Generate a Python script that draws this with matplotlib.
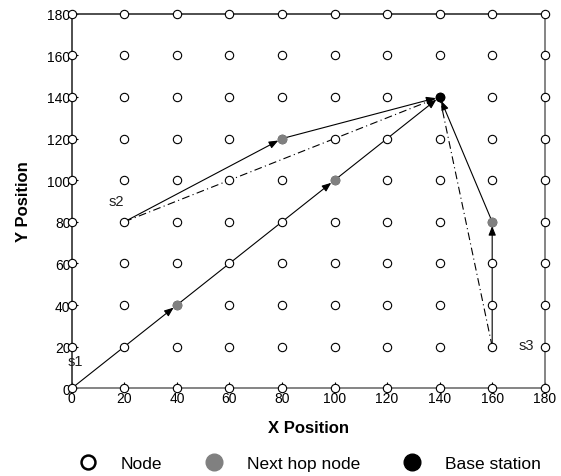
import matplotlib
matplotlib.use('Agg')
import matplotlib.pyplot as plt
from matplotlib.lines import Line2D
import numpy as np

plt.rcParams['font.family'] = ['Liberation Sans', 'DejaVu Sans']

grid_vals = list(range(0, 181, 20))
next_hop_x = [40, 100, 80, 160]
next_hop_y = [40, 100, 120, 80]
base_x, base_y = 140, 140

# multi-hop routes (solid, with arrows)
routes = [
    [(0, 0), (40, 40), (100, 100), (140, 140)],
    [(20, 80), (80, 120), (140, 140)],
    [(160, 20), (160, 80), (140, 140)],
]
# direct routes (dash-dot)
direct = [[(20, 80), (140, 140)], [(160, 20), (140, 140)]]

src_names = ['s1', 's2', 's3']
src_x = [0, 20, 160]
src_y = [0, 80, 20]
label_off = [(1.5, 13), (-3, 10), (13, 1)]

fig = plt.figure(figsize=(5.61, 4.77), dpi=100)
ax = fig.add_axes([0.128, 0.184, 0.843, 0.785])

gx, gy = np.meshgrid(grid_vals, grid_vals)
ax.plot(gx.ravel(), gy.ravel(), 'o', ms=6.0, mfc='white', mec='black', mew=0.8,
        ls='none', zorder=3, clip_on=False)

for r in routes:
    for (x0, y0), (x1, y1) in zip(r[:-1], r[1:]):
        ax.annotate('', xy=(x1, y1), xytext=(x0, y0),
                    arrowprops=dict(arrowstyle='-|>,head_length=0.55,head_width=0.22',
                                    color='black', lw=0.8, shrinkA=0, shrinkB=3),
                    zorder=2)
for (x0, y0), (x1, y1) in direct:
    ax.plot([x0, x1], [y0, y1], color='black', lw=0.8, ls=(0, (7, 3, 1, 3)), zorder=2)

ax.plot(next_hop_x, next_hop_y, 'o', ms=6.0, color='#808080', ls='none', zorder=4)
ax.plot([base_x], [base_y], 'o', ms=6.0, color='black', ls='none', zorder=4)

for name, x, y, (dx, dy) in zip(src_names, src_x, src_y, label_off):
    ax.text(x + dx, y + dy, name, fontsize=10.5, ha='center', va='center', color='#202020')

ax.set_xlim(0, 180)
ax.set_ylim(0, 180)
ax.set_xticks(grid_vals)
ax.set_yticks(grid_vals)
ax.tick_params(direction='in', length=4, width=0.8, pad=1, labelsize=10)
ax.tick_params(axis='x', pad=2)
for s in ['left', 'top']:
    ax.spines[s].set_color('#303030')
for s in ['right', 'bottom']:
    ax.spines[s].set_color('#707070')
for s in ax.spines.values():
    s.set_linewidth(1.2)

ax.set_xlabel('X Position', fontsize=12, fontweight='bold', labelpad=11)
ax.set_ylabel('Y Position', fontsize=12, fontweight='bold', labelpad=12)

handles = [
    Line2D([], [], marker='o', ls='none', ms=10, mfc='white', mec='black', mew=1.8),
    Line2D([], [], marker='o', ls='none', ms=12, color='#808080'),
    Line2D([], [], marker='o', ls='none', ms=12, color='black'),
]
fig.legend(handles, ['Node', 'Next hop node', 'Base station'], loc='center',
           bbox_to_anchor=(0.545, 0.027), ncol=3, frameon=False, fontsize=12.5,
           handletextpad=0.9, columnspacing=2.0)

fig.savefig('out.png', dpi=100)
